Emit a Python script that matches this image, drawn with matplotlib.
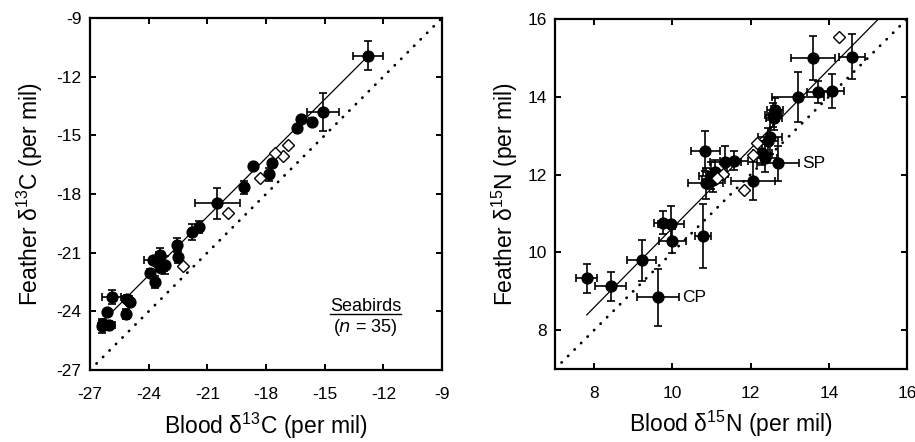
import numpy as np
import matplotlib
matplotlib.use('Agg')
import matplotlib.pyplot as plt
from matplotlib.lines import Line2D

plt.rcParams['font.family'] = ['Liberation Sans', 'DejaVu Sans']
plt.rcParams['mathtext.default'] = 'regular'
plt.rcParams['axes.unicode_minus'] = False

# Carbon: filled circles (mean +- sd)
c_blood = [-12.77, -15.07, -16.23, -15.67, -16.40, -18.65, -17.70, -17.83, -19.13, -20.49,
           -21.41, -21.80, -22.57, -22.49, -23.42, -23.59, -23.17, -23.80, -23.35, -23.93,
           -23.68, -25.89, -25.12, -24.96, -25.16, -26.15, -26.35, -26.01, -26.40]
c_feather = [-10.93, -13.79, -14.17, -14.31, -14.64, -16.56, -16.40, -17.00, -17.66, -18.48,
             -19.70, -19.93, -20.61, -21.21, -21.12, -21.46, -21.63, -21.40, -21.80, -22.06,
             -22.49, -23.28, -23.38, -23.51, -24.14, -24.02, -24.65, -24.70, -24.75]
c_blood_sd = [0.77, 0.81, 0.10, 0.15, 0.10, 0.10, 0.10, 0.15, 0.15, 1.15,
              0.15, 0.10, 0.15, 0.15, 0.20, 0.25, 0.20, 0.45, 0.30, 0.10,
              0.10, 0.49, 0.25, 0.20, 0.10, 0.10, 0.20, 0.30, 0.20]
c_feather_sd = [0.74, 0.97, 0.15, 0.20, 0.10, 0.10, 0.15, 0.35, 0.35, 0.81,
                0.30, 0.40, 0.35, 0.30, 0.35, 0.20, 0.45, 0.20, 0.20, 0.20,
                0.30, 0.35, 0.20, 0.20, 0.25, 0.15, 0.20, 0.20, 0.35]
# Carbon: open diamonds
c_blood_d = [-16.86, -17.15, -17.54, -18.31, -19.93, -22.23]
c_feather_d = [-15.50, -16.06, -15.89, -17.20, -18.96, -21.68]
# Carbon regression line
c_fit_x = [-26.40, -12.77]
c_fit_y = [-24.56, -10.93]

# Nitrogen: filled circles
n_blood = [7.81, 8.42, 9.22, 9.64, 9.77, 9.96, 10.00, 10.78, 10.84, 10.85,
           10.98, 11.09, 11.35, 11.58, 12.06, 12.37, 12.50, 12.63, 12.58, 12.71,
           13.22, 13.59, 13.72, 14.07, 14.59, 11.05, 12.45, 12.60, 12.30]
n_feather = [9.33, 9.13, 9.79, 8.84, 10.76, 10.72, 10.29, 10.42, 12.61, 11.77,
             11.97, 12.07, 12.33, 12.36, 11.83, 12.43, 12.97, 13.66, 13.53, 12.29,
             13.99, 15.00, 14.13, 14.15, 15.03, 11.85, 12.85, 13.45, 12.55]
n_blood_sd = [0.27, 0.40, 0.37, 0.54, 0.25, 0.34, 0.34, 0.20, 0.37, 0.45,
              0.30, 0.30, 0.40, 0.35, 0.57, 0.30, 0.30, 0.20, 0.20, 0.54,
              0.66, 0.56, 0.27, 0.33, 0.33, 0.30, 0.25, 0.20, 0.25]
n_feather_sd = [0.38, 0.37, 0.52, 0.74, 0.30, 0.48, 0.30, 0.83, 0.52, 0.40,
                0.35, 0.30, 0.40, 0.25, 0.49, 0.36, 0.43, 0.30, 0.30, 0.45,
                0.65, 0.57, 0.28, 0.43, 0.58, 0.30, 0.35, 0.30, 0.30]
n_blood_d = [14.26, 12.17, 12.07, 11.29, 11.83, 11.15]
n_feather_d = [15.53, 12.80, 12.50, 12.02, 11.61, 11.90]
n_fit_x = [7.81, 15.30]
n_fit_y = [8.39, 16.03]

c_ticks = [-27, -24, -21, -18, -15, -12, -9]
n_ticks = [8, 10, 12, 14, 16]

fig = plt.figure(figsize=(9.15, 4.42), dpi=100)
ax1 = fig.add_axes([0.0984, 0.1629, 0.3847, 0.7964])
ax2 = fig.add_axes([0.6066, 0.1652, 0.3847, 0.7919])


def draw_panel(ax, bx, fy, bsd, fsd, dx, dy, fx, fyl, lims):
    ax.plot(lims, lims, color='black', lw=2.0, linestyle=(0, (0.1, 3.2)),
            dash_capstyle='round', zorder=1)
    ax.plot(fx, fyl, color='black', lw=0.9, zorder=2)
    ax.errorbar(bx, fy, xerr=bsd, yerr=fsd, fmt='o', color='black', ms=7.8,
                elinewidth=1.2, capsize=3, capthick=1.2, zorder=3)
    ax.plot(dx, dy, 'D', ms=6.5, mfc='white', mec='black', mew=1.0, zorder=4)
    ax.set_xlim(lims)
    ax.set_ylim(lims)
    for s in ax.spines.values():
        s.set_linewidth(1.6)
    ax.tick_params(direction='in', top=True, right=True, length=4, width=1.4,
                   labelsize=12.5)
    ax.tick_params(axis='x', pad=12)
    ax.tick_params(axis='y', pad=6)


def place_labels(ax, ylab_x):
    ax.xaxis.label.set_va('center')
    ax.yaxis.label.set_va('center')
    ax.xaxis.set_label_coords(0.5, -0.158)
    ax.yaxis.set_label_coords(ylab_x, 0.5)


draw_panel(ax1, c_blood, c_feather, c_blood_sd, c_feather_sd,
           c_blood_d, c_feather_d, c_fit_x, c_fit_y, (-27, -9))
ax1.set_xticks(c_ticks)
ax1.set_yticks(c_ticks)
ax1.set_xlabel('Blood δ$^{13}$C (per mil)', fontsize=16.5)
ax1.set_ylabel('Feather δ$^{13}$C (per mil)', fontsize=16.5)
place_labels(ax1, -0.170)

t1 = ax1.text(0.783, 0.179, 'Seabirds', transform=ax1.transAxes,
              ha='center', va='center', fontsize=13)
ax1.text(0.783, 0.122, '($\\it{n}$ = 35)', transform=ax1.transAxes,
         ha='center', va='center', fontsize=13)

draw_panel(ax2, n_blood, n_feather, n_blood_sd, n_feather_sd,
           n_blood_d, n_feather_d, n_fit_x, n_fit_y, (7, 16))
ax2.set_xticks(n_ticks)
ax2.set_yticks(n_ticks)
ax2.set_xlabel('Blood δ$^{15}$N (per mil)', fontsize=16.5)
ax2.set_ylabel('Feather δ$^{15}$N (per mil)', fontsize=16.5)
place_labels(ax2, -0.142)

# labels for outliers, just past the end of their x error bars
ax2.text(n_blood[3] + n_blood_sd[3] + 0.06, n_feather[3], 'CP',
         ha='left', va='center', fontsize=12.5)
ax2.text(n_blood[19] + n_blood_sd[19] + 0.06, n_feather[19], 'SP',
         ha='left', va='center', fontsize=12.5)

# underline "Seabirds"
fig.canvas.draw()
bb = t1.get_window_extent().transformed(ax1.transAxes.inverted())
ax1.add_line(Line2D([bb.x0, bb.x1], [bb.y0 + 0.004, bb.y0 + 0.004],
                    transform=ax1.transAxes, color='black', lw=1.0))

fig.savefig('out.png', dpi=100)
